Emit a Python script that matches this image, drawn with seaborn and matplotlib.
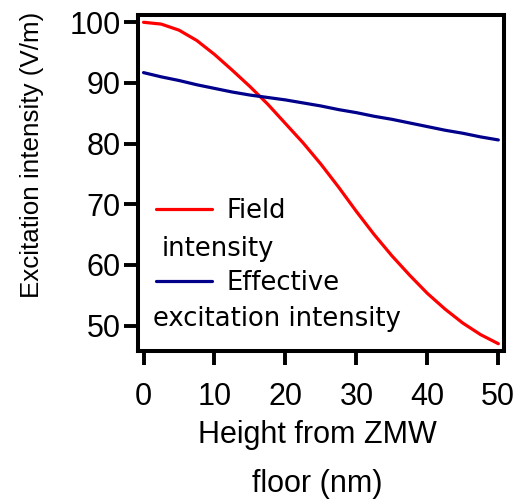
import numpy as np
import pandas as pd
import seaborn as sns
import matplotlib.pyplot as plt
from matplotlib.lines import Line2D

# values
height_nm = [0, 2.5, 5, 7.5, 10, 12.5, 15, 17.5, 20, 22.5, 25,
             27.5, 30, 32.5, 35, 37.5, 40, 42.5, 45, 47.5, 50]
field_intensity = [100.0, 99.7, 98.7, 97.0, 94.7, 92.1, 89.4, 86.5, 83.3,
                   80.1, 76.6, 72.8, 68.8, 65.0, 61.5, 58.3, 55.3, 52.7,
                   50.4, 48.5, 47.0]
effective_intensity = [91.7, 91.0, 90.4, 89.7, 89.1, 88.5, 88.0, 87.6, 87.2,
                       86.7, 86.2, 85.6, 85.1, 84.5, 84.0, 83.4, 82.8, 82.2,
                       81.7, 81.1, 80.6]
series_names = ["Field intensity", "Effective excitation intensity"]
series_colors = ["#FF0000", "#00008B"]
x_ticks = [0, 10, 20, 30, 40, 50]
y_ticks = [50, 60, 70, 80, 90, 100]

sns.set_style("ticks")
plt.rcParams["font.family"] = ["Liberation Sans", "DejaVu Sans"]
plt.rcParams["text.color"] = "black"

df = pd.DataFrame({
    "Height": height_nm * 2,
    "Intensity": field_intensity + effective_intensity,
    "Series": [series_names[0]] * len(height_nm)
    + [series_names[1]] * len(height_nm),
})

fig = plt.figure(figsize=(5.18, 4.99), dpi=100)
ax = fig.add_axes([137.5 / 518, 1 - 351 / 499, 366.5 / 518, 336 / 499])

sns.lineplot(data=df, x="Height", y="Intensity", hue="Series",
             palette=dict(zip(series_names, series_colors)),
             linewidth=2.3, legend=False, ax=ax)

ax.set_xlim(-0.85, 50.8)
ax.set_ylim(45.8, 101.2)
ax.set_xticks(x_ticks)
ax.set_yticks(y_ticks)
ax.tick_params(axis="both", direction="out", length=10, width=2.8,
               labelsize=22, color="black", labelcolor="black")
ax.tick_params(axis="x", pad=12.5)
ax.tick_params(axis="y", pad=2)
for side in ["left", "right", "top", "bottom"]:
    ax.spines[side].set_visible(True)
    ax.spines[side].set_linewidth(2.9)
    ax.spines[side].set_color("black")

ax.set_ylabel("Excitation intensity (V/m)", fontsize=18.7, color="black")
ax.yaxis.set_label_coords(-0.255, 0.585)
ax.set_xlabel("Height from ZMW\nfloor (nm)", fontsize=22, color="black",
              linespacing=1.83)
ax.xaxis.set_label_coords(0.49, -0.205)

# legend with wrapped labels, as in the reference
handles = [Line2D([], [], color=c, linewidth=2.3) for c in series_colors]
leg = ax.legend(handles, ["Field", "Effective"], frameon=False,
                loc="upper left", bbox_to_anchor=(0.05, 0.455),
                borderpad=0, borderaxespad=0, handlelength=2.17,
                handletextpad=0.58, labelspacing=1.78, labelcolor="black",
                prop={"family": "DejaVu Sans", "size": 18.6})
ax.text(0.065, 0.282, "intensity", transform=ax.transAxes,
        family="DejaVu Sans", fontsize=18.6, va="baseline", ha="left")
ax.text(0.041, 0.074, "excitation intensity", transform=ax.transAxes,
        family="DejaVu Sans", fontsize=18.6, va="baseline", ha="left")

fig.savefig("out.png", dpi=100)
